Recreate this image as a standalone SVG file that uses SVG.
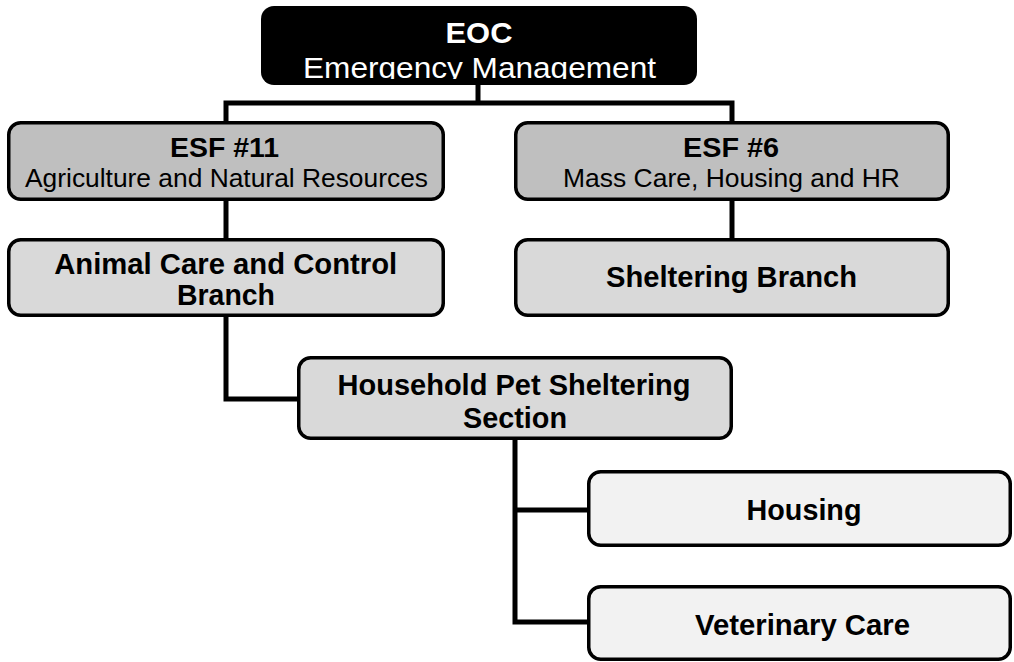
<svg xmlns="http://www.w3.org/2000/svg" width="1014" height="662" viewBox="0 0 1014 662">
<style>
.box{stroke:#000;stroke-width:3.5}
.l1{fill:#bfbfbf}
.l2{fill:#d9d9d9}
.l3{fill:#f2f2f2}
.b{font-family:"Liberation Sans",Arial,sans-serif;font-weight:bold;font-size:29px;fill:#000;text-anchor:middle}
.r{font-family:"Liberation Sans",Arial,sans-serif;font-size:25px;fill:#000;text-anchor:middle}
.conn{fill:none;stroke:#000;stroke-width:5;stroke-linejoin:miter;stroke-linecap:butt}
</style>
<defs>
<clipPath id="eocclip"><rect x="261" y="6" width="436" height="73"/></clipPath>
</defs>
<rect width="1014" height="662" fill="#fff"/>
<g id="connectors" class="conn">
<path d="M478 85 V103"/>
<path d="M226 122 V103 H732 V122"/>
<path d="M226 201 V238"/>
<path d="M732 201 V238"/>
<path d="M226 317 V399 H298"/>
<path d="M515 440 V622 H588"/>
<path d="M515 510 H588"/>
</g>
<g id="eoc">
<rect x="261" y="6" width="436" height="79" rx="13" fill="#000"/>
<text x="479" y="43" class="b" style="font-size:30px;fill:#fff" textLength="67" lengthAdjust="spacingAndGlyphs">EOC</text>
<text x="479.5" y="77.5" class="r" style="font-size:29px;fill:#fff" textLength="353" lengthAdjust="spacingAndGlyphs" clip-path="url(#eocclip)">Emergency Management</text>
</g>
<g id="esf11">
<rect x="8.75" y="122.75" width="434.5" height="76.5" rx="12" class="box l1"/>
<text x="224.5" y="156.7" class="b" style="font-size:27px" textLength="109" lengthAdjust="spacingAndGlyphs">ESF #11</text>
<text x="226.5" y="187" class="r" textLength="403" lengthAdjust="spacingAndGlyphs">Agriculture and Natural Resources</text>
</g>
<g id="esf6">
<rect x="515.75" y="122.75" width="432.5" height="76.5" rx="12" class="box l1"/>
<text x="731" y="156.7" class="b" style="font-size:27px" textLength="96" lengthAdjust="spacingAndGlyphs">ESF #6</text>
<text x="731.5" y="187" class="r" textLength="337" lengthAdjust="spacingAndGlyphs">Mass Care, Housing and HR</text>
</g>
<g id="animal-care">
<rect x="8.75" y="239.75" width="434.5" height="75.5" rx="12" class="box l2"/>
<text x="225.7" y="273.5" class="b" textLength="343" lengthAdjust="spacingAndGlyphs">Animal Care and Control</text>
<text x="226" y="305" class="b" textLength="98" lengthAdjust="spacingAndGlyphs">Branch</text>
</g>
<g id="sheltering-branch">
<rect x="515.75" y="239.75" width="432.5" height="75.5" rx="12" class="box l2"/>
<text x="731.5" y="286.5" class="b" textLength="251" lengthAdjust="spacingAndGlyphs">Sheltering Branch</text>
</g>
<g id="household-pet">
<rect x="298.75" y="357.75" width="432.5" height="80.5" rx="12" class="box l2"/>
<text x="514" y="395" class="b" textLength="353" lengthAdjust="spacingAndGlyphs">Household Pet Sheltering</text>
<text x="515" y="428" class="b" textLength="104" lengthAdjust="spacingAndGlyphs">Section</text>
</g>
<g id="housing">
<rect x="588.75" y="471.75" width="421.5" height="73.5" rx="12" class="box l3"/>
<text x="804" y="520" class="b" textLength="115" lengthAdjust="spacingAndGlyphs">Housing</text>
</g>
<g id="veterinary-care">
<rect x="588.75" y="586.75" width="421.5" height="72.5" rx="12" class="box l3"/>
<text x="802.5" y="634.5" class="b" textLength="215" lengthAdjust="spacingAndGlyphs">Veterinary Care</text>
</g>
</svg>
